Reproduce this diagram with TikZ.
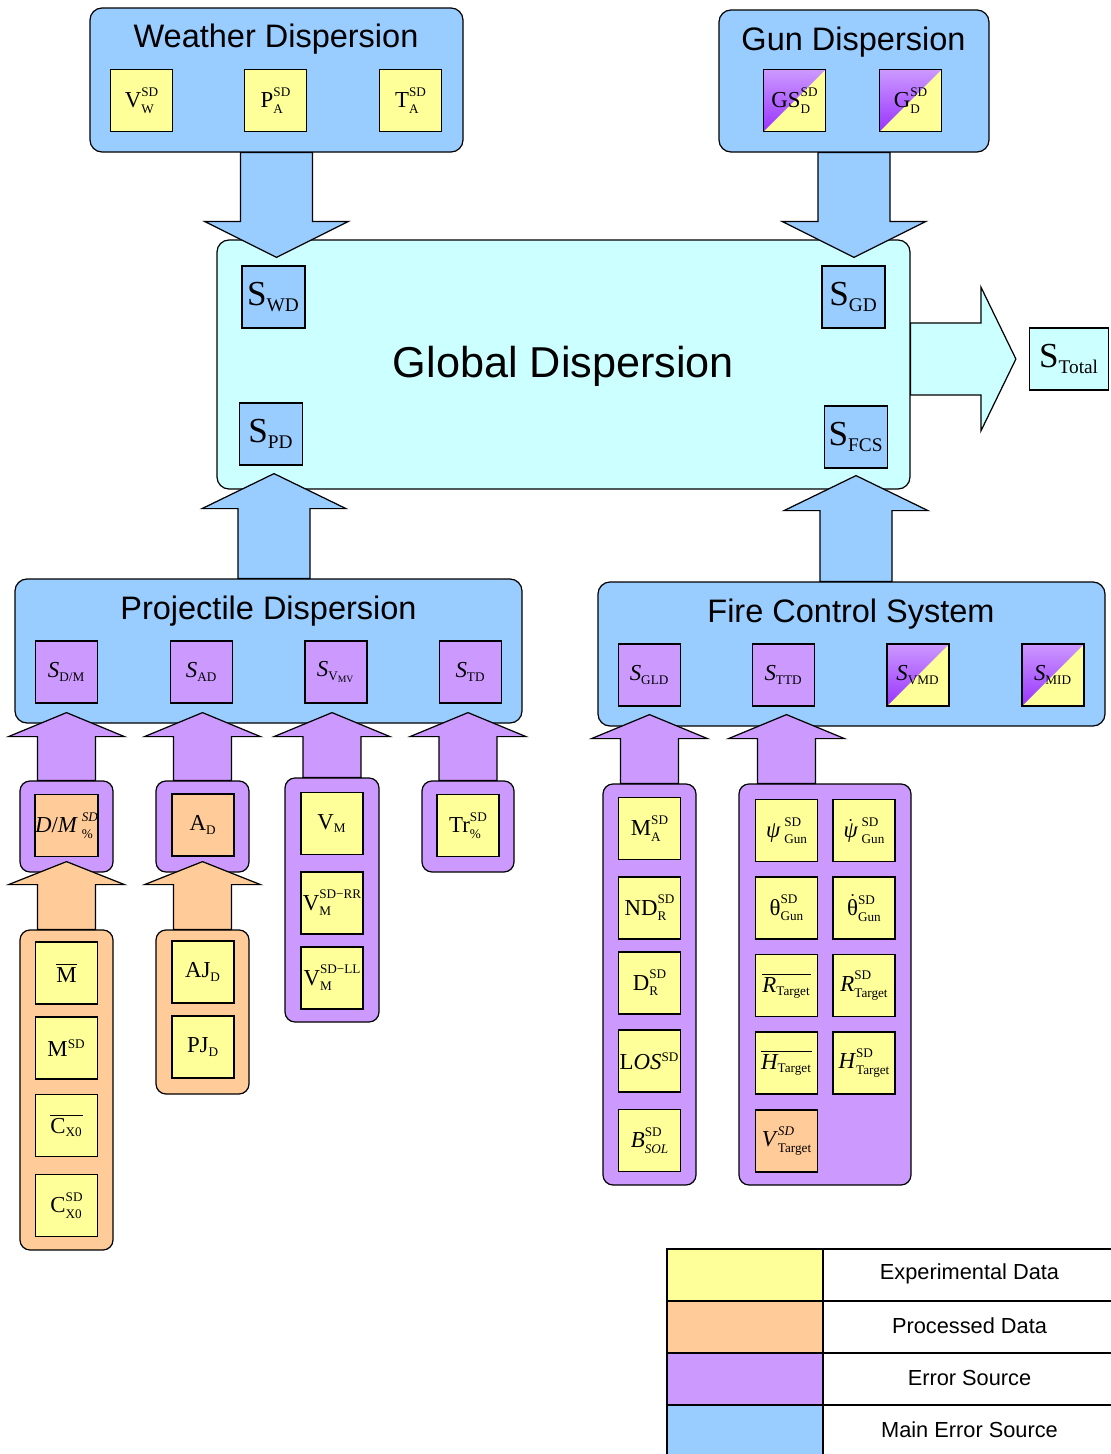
\documentclass[tikz,border=0pt]{standalone}
\usepackage{amsmath}
\usepackage{fontspec}
\setmainfont{Liberation Serif}
\setsansfont{Liberation Sans}
\usetikzlibrary{calc,fit}
\definecolor{mainblue}{HTML}{99CCFF}
\definecolor{globcyan}{HTML}{CCFFFF}
\definecolor{expyellow}{HTML}{FFFF99}
\definecolor{procorange}{HTML}{FFCC99}
\definecolor{errpurple}{HTML}{CC99FF}
\definecolor{errdark}{HTML}{9933FF}
\DeclareMathSizes{13}{13}{7.5}{5.5}
\DeclareMathSizes{20}{20}{11}{8}

\newlength\supw
\newlength\subw
\newcommand{\scfont}{\fontsize{7.5}{8}\selectfont}
% superscript over subscript, set apart
\newcommand{\supsub}[2]{%
  \settowidth\supw{\scfont #1}\settowidth\subw{\scfont #2}%
  \ifdim\subw>\supw \supw=\subw\fi
  \makebox[\supw][l]{\rlap{\raisebox{0.5em}{\scfont #1}}\raisebox{-0.25em}{\scfont #2}}}
\newcommand{\lsub}[1]{\ensuremath{_{\text{#1}}}}
\newcommand{\lsup}[1]{\ensuremath{^{\text{#1}}}}
% block arrow: style, from, tip, shaft half width, head half width, head length
\newcommand{\fatarrow}[6]{%
  \coordinate (fa-s) at #2;
  \coordinate (fa-t) at #3;
  \coordinate (fa-b) at ($(fa-t)!#6!(fa-s)$);
  \draw[#1] ($(fa-s)!#4!90:(fa-t)$) -- ($(fa-b)!#4!90:(fa-t)$)
    -- ($(fa-b)!#5!90:(fa-t)$) -- (fa-t) -- ($(fa-b)!#5!-90:(fa-t)$)
    -- ($(fa-b)!#4!-90:(fa-t)$) -- ($(fa-s)!#4!-90:(fa-t)$) -- cycle;
}

\tikzset{
  mainbox/.style={draw, fill=mainblue, rounded corners=0.24cm, inner sep=0pt, line width=0.7pt},
  globbox/.style={mainbox, fill=globcyan},
  grpbox/.style={draw, rounded corners=0.2cm, inner sep=0pt, line width=0.7pt},
  cell/.style={draw, minimum width=1.24cm, minimum height=1.24cm, inner sep=0pt,
    line width=0.7pt, font=\fontsize{13}{15}\selectfont},
  expbox/.style={cell, fill=expyellow},
  procbox/.style={cell, fill=procorange},
  errbox/.style={cell, fill=errpurple},
  splitbox/.style={cell, fill=expyellow, path picture={
    \shade[top color=errpurple, bottom color=errdark]
      (path picture bounding box.south west) -- (path picture bounding box.north west)
      -- (path picture bounding box.north east) -- cycle;}},
  bigcell/.style={cell, fill=mainblue, minimum width=1.26cm, font=\fontsize{20}{22}\selectfont},
  title/.style={anchor=base, font=\sffamily\fontsize{18.5}{20}\selectfont},
  arrowline/.style={draw, line width=0.7pt, line join=miter},
  bluearrow/.style={arrowline, fill=mainblue},
  cyanarrow/.style={arrowline, fill=globcyan},
  purplearrow/.style={arrowline, fill=errpurple},
  orangearrow/.style={arrowline, fill=procorange},
  legcell/.style={draw, line width=0.7pt, inner sep=0pt}
}

\begin{document}
\begin{tikzpicture}[x=0.02cm, y=-0.02cm]
  \useasboundingbox[fill=white] (0,0) rectangle (1111,1454);

  % main boxes
  \node[mainbox, fit={(90,8) (463,152)}] (weather) {};
  \node[mainbox, fit={(719,10) (989,152)}] (gun) {};
  \node[globbox, fit={(217,240) (910,489)}] (global) {};
  \node[mainbox, fit={(15,579) (522,723)}] (proj) {};
  \node[mainbox, fit={(598,582) (1105,726)}] (fcs) {};
  \node[cell, fill=globcyan, minimum width=1.58cm, font=\fontsize{20}{22}\selectfont] (stotal) at (1069,359) {S\lsub{Total}};

  \node[title] (wtitle) at (276,47) {Weather Dispersion};
  \node[title] (gtitle) at (853.5,50) {Gun Dispersion};
  \node[anchor=base, font=\sffamily\fontsize{24.6}{28}\selectfont] (gltitle) at (563.5,377) {Global Dispersion};
  \node[title] (ptitle) at (268.5,619) {Projectile Dispersion};
  \node[title] (ftitle) at (851,622) {Fire Control System};

  % groups of inputs
  \node[grpbox, fill=errpurple, fit={(20,781) (113,872)}] (g1) {};
  \node[grpbox, fill=errpurple, fit={(156,781) (249,872)}] (g2) {};
  \node[grpbox, fill=errpurple, fit={(285,778) (379,1022)}] (g3) {};
  \node[grpbox, fill=errpurple, fit={(422,781) (514,872)}] (g4) {};
  \node[grpbox, fill=procorange, fit={(20,930) (113,1250)}] (o1) {};
  \node[grpbox, fill=procorange, fit={(156,930) (249,1094)}] (o2) {};
  \node[grpbox, fill=errpurple, fit={(603,784) (696,1185)}] (f1) {};
  \node[grpbox, fill=errpurple, fit={(739,784) (911,1185)}] (f2) {};

  % weather and gun
  \node[expbox] (vw) at (141.5,100.5) {V\supsub{SD}{W}};
  \node[expbox] (pa) at (275.5,100.5) {P\supsub{SD}{A}};
  \node[expbox] (ta) at (410.5,100.5) {T\supsub{SD}{A}};
  \node[splitbox] (gsd) at (794.5,100.5) {GS\supsub{SD}{D}};
  \node[splitbox] (gd) at (910.5,100.5) {G\supsub{SD}{D}};

  % global
  \node[bigcell] (swd) at (273.5,297) {S\lsub{WD}};
  \node[bigcell] (sgd) at (853.5,297) {S\lsub{GD}};
  \node[bigcell] (spd) at (271,434) {S\lsub{PD}};
  \node[bigcell] (sfcs) at (856,437) {S\lsub{FCS}};

  % projectile
  \node[errbox] (sdm) at (66.5,672) {\textit{S}\lsub{D/M}};
  \node[errbox] (sad) at (201.5,672) {\textit{S}\lsub{AD}};
  \node[errbox] (svmv) at (336,672) {\textit{S}\ensuremath{_{\text{V}_{\text{MV}}}}};
  \node[errbox] (std) at (470.5,672) {\textit{S}\lsub{TD}};

  % fire control
  \node[errbox] (sgld) at (649.5,675) {\textit{S}\lsub{GLD}};
  \node[errbox] (sttd) at (783.5,675) {\textit{S}\lsub{TTD}};
  \node[splitbox] (svmd) at (918,675) {\textit{S}\lsub{VMD}};
  \node[splitbox] (smid) at (1053,675) {\textit{S}\lsub{MID}};

  % projectile inputs
  \node[procbox] (dm) at (66.5,825.5) {\textit{D}/\textit{M}\,\supsub{\itshape SD}{\%}};
  \node[procbox] (ad) at (203,825) {A\lsub{D}};
  \node[expbox] (vm) at (332,823.5) {V\lsub{M}};
  \node[expbox] (vmrr) at (332,903) {V\supsub{SD−RR}{M}};
  \node[expbox] (vmll) at (332,978) {V\supsub{SD−LL}{M}};
  \node[expbox] (tr) at (468,825.5) {Tr\supsub{SD}{\%}};
  \node[expbox] (mbar) at (66.5,973) {$\overline{\text{M}}$};
  \node[expbox] (msd) at (66.5,1048) {M\lsup{SD}};
  \node[expbox] (cbar) at (66.5,1125.5) {$\overline{\text{C}_{\text{X0}}}$};
  \node[expbox] (csd) at (66.5,1205.5) {C\supsub{SD}{X0}};
  \node[expbox] (aj) at (203,972) {AJ\lsub{D}};
  \node[expbox] (pj) at (203,1047) {PJ\lsub{D}};

  % fire control inputs
  \node[expbox] (ma) at (649.5,828.5) {M\supsub{SD}{A}};
  \node[expbox] (nd) at (649.5,908) {ND\supsub{SD}{R}};
  \node[expbox] (dr) at (649.5,983) {D\supsub{SD}{R}};
  \node[expbox] (los) at (649.5,1061) {L\textit{OS}\lsup{SD}};
  \node[expbox] (bsol) at (649.5,1140.5) {\textit{B}\supsub{SD}{\itshape SOL}};
  \node[expbox] (psi) at (786.5,830.5) {\textit{ψ}\,\supsub{SD}{Gun}};
  \node[expbox] (psid) at (864,830.5) {\ensuremath{\dot{\text{\itshape ψ}}}\,\supsub{SD}{Gun}};
  \node[expbox] (th) at (786.5,908) {θ\supsub{SD}{Gun}};
  \node[expbox] (thd) at (864,908) {\ensuremath{\dot{\text{θ}}}\supsub{SD}{Gun}};
  \node[expbox] (rbar) at (786.5,985.5) {$\overline{\textit{R}_{\text{Target}}}$};
  \node[expbox] (rsd) at (864,985.5) {\textit{R}\supsub{SD}{Target}};
  \node[expbox] (hbar) at (786.5,1063) {$\overline{\textit{H}_{\text{Target}}}$};
  \node[expbox] (hsd) at (864,1063) {\textit{H}\supsub{SD}{Target}};
  \node[procbox] (vt) at (786.5,1141) {\textit{V}\supsub{\itshape SD}{Target}};

  % arrows into global dispersion
  \fatarrow{bluearrow}{(weather.south)}{($(weather.south |- global.north)+(0,18)$)}{0.72cm}{1.44cm}{0.72cm}
  \fatarrow{bluearrow}{(gun.south)}{($(gun.south |- global.north)+(0,18)$)}{0.72cm}{1.44cm}{0.72cm}
  \fatarrow{bluearrow}{($(spd |- proj.north)+(3,0)$)}{($(spd |- global.south)+(3,-16)$)}{0.72cm}{1.44cm}{0.7cm}
  \fatarrow{bluearrow}{(sfcs |- fcs.north)}{($(sfcs |- global.south)+(0,-14)$)}{0.72cm}{1.44cm}{0.7cm}
  \fatarrow{cyanarrow}{(global.east |- stotal)}{($(stotal.west)+(-13,0)$)}{0.72cm}{1.44cm}{0.7cm}

  % arrows into the sub systems
  \foreach \grp in {g1,g2,g3,g4}{
    \fatarrow{purplearrow}{(\grp.north)}{($(\grp.north |- proj.south)+(0,-11)$)}{0.58cm}{1.16cm}{0.48cm}
  }
  \foreach \grp/\dst in {o1/g1,o2/g2}{
    \fatarrow{orangearrow}{(\grp.north)}{($(\grp.north |- \dst.south)+(0,-11)$)}{0.58cm}{1.16cm}{0.46cm}
  }
  \fatarrow{purplearrow}{(f1.north)}{($(f1.north |- fcs.south)+(0,-12)$)}{0.58cm}{1.16cm}{0.48cm}
  \fatarrow{purplearrow}{(psi |- f2.north)}{($(psi |- fcs.south)+(0,-12)$)}{0.58cm}{1.16cm}{0.48cm}

  % legend
  \foreach \col/\txt [count=\i] in {expyellow/Experimental Data, procorange/Processed Data,
      errpurple/Error Source, mainblue/Main Error Source} {
    \node[legcell, fill=\col, fit={(667,{1249+52*(\i-1)}) (823,{1249+52*\i})}] (legc\i) {};
    \node[legcell, fit={(823,{1249+52*(\i-1)}) (1116,{1249+52*\i})}] (legt\i) {};
    \node[font=\sffamily\fontsize{12.4}{14}\selectfont] (legl\i) at ($(legt\i.center)+(0,-1)$) {\txt};
  }
\end{tikzpicture}
\end{document}
